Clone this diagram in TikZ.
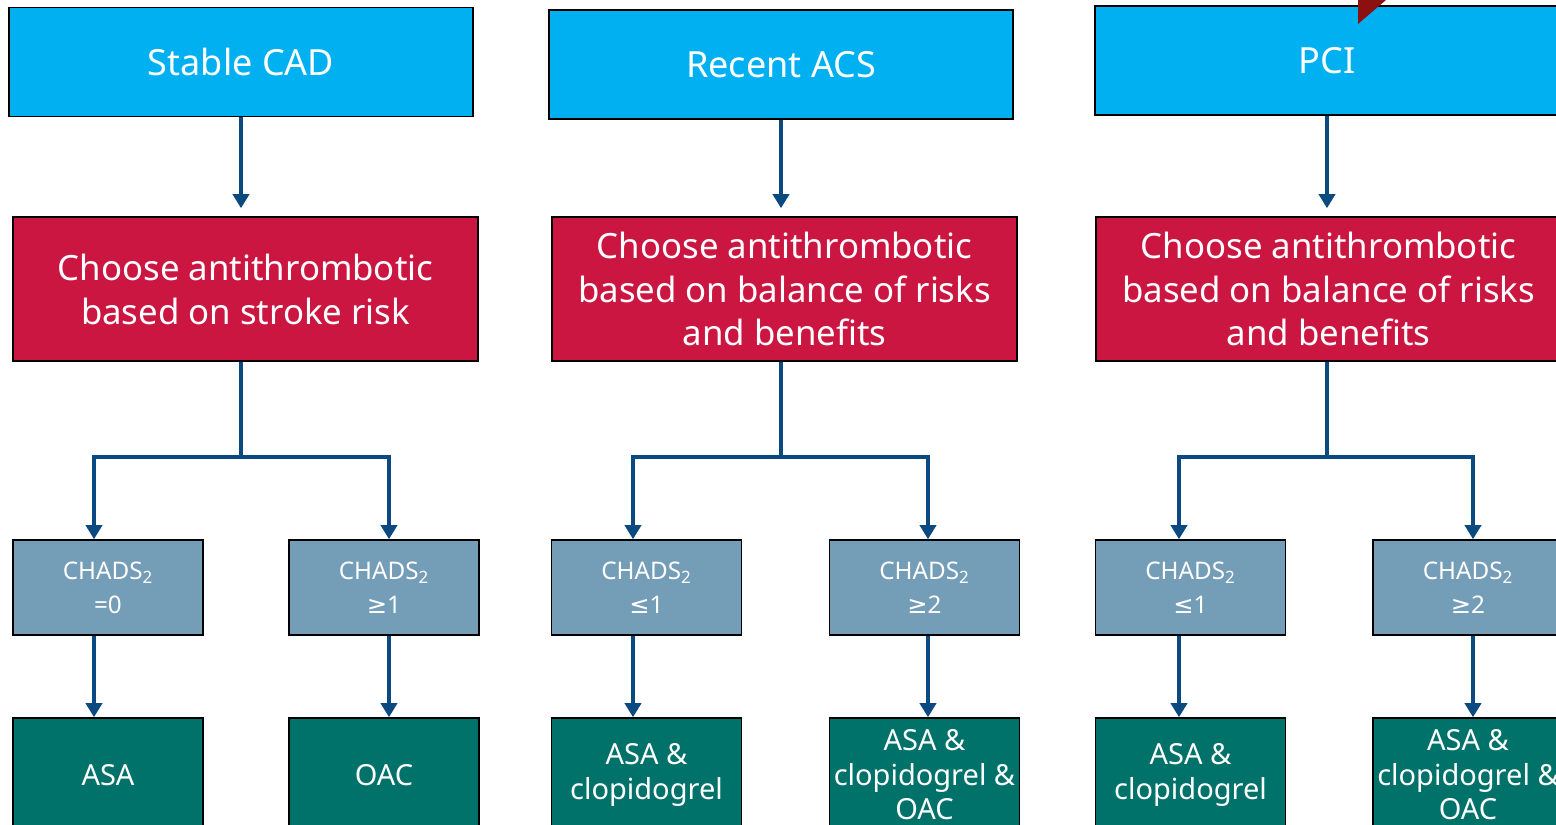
\documentclass[tikz,border=0pt]{standalone}
\usepackage{fontspec}
\setmainfont{Noto Sans}
\newfontfamily\symfont{DejaVu Sans}
\usepackage{tikz}
\usetikzlibrary{arrows.meta}
\usetikzlibrary{calc,positioning}

\definecolor{cadblue}{RGB}{0,176,240}
\definecolor{riskred}{RGB}{204,22,66}
\definecolor{chadsgray}{RGB}{116,157,183}
\definecolor{drugteal}{RGB}{0,114,106}
\definecolor{flowblue}{RGB}{10,74,128}
\definecolor{markred}{RGB}{140,16,16}

\tikzset{
  box/.style={draw=black, line width=0.9pt, text=white, align=center, inner sep=0pt},
  topbox/.style={box, fill=cadblue, minimum width=9.28cm, minimum height=2.18cm,
    font=\fontsize{20.5}{25}\selectfont},
  riskbox/.style={box, fill=riskred, minimum width=9.3cm, minimum height=2.88cm,
    font=\fontsize{19.8}{25}\selectfont},
  chadsbox/.style={box, fill=chadsgray, minimum width=3.8cm, minimum height=1.9cm,
    font=\fontsize{13.8}{19.3}\selectfont},
  drugbox/.style={box, fill=drugteal, minimum width=3.8cm, minimum height=2.28cm,
    font=\fontsize{16.5}{19.6}\selectfont},
  flow/.style={draw=flowblue, line width=2pt},
  flowarrow/.style={flow, -{Triangle[width=0.32cm,length=0.28cm]}},
}
\newcommand{\chads}{CHADS\textsubscript{2}}
\newcommand{\atleast}{{\symfont ≥}}
\newcommand{\atmost}{{\symfont ≤}}

\begin{document}
\begin{tikzpicture}[x=0.02cm, y=-0.02cm]
\useasboundingbox (0,0) rectangle (1556,825);
\clip (0,0) rectangle (1556,825);

% clinical setting
\node[topbox] (cad) at (241,62)    {Stable CAD};
\node[topbox] (acs) at (781,64.5)  {Recent ACS};
\node[topbox] (pci) at (1327,60.5) {PCI};
\fill[markred] (1358,0) -- (1386,0) -- (1358,24) -- cycle;

% decision boxes
\node[riskbox] (risk1) at (245.5,289)  {Choose antithrombotic\\based on stroke risk};
\node[riskbox] (risk2) at (784.5,289)  {Choose antithrombotic\\based on balance of risks\\and benefits};
\node[riskbox] (risk3) at (1328.5,289) {Choose antithrombotic\\based on balance of risks\\and benefits};

% stroke risk
\node[chadsbox] (chA) at (108,587.5)    {\chads\\=0};
\node[chadsbox] (chB) at (384,587.5)    {\chads\\\atleast1};
\node[chadsbox] (chC) at (646.5,587.5)  {\chads\\\atmost1};
\node[chadsbox] (chD) at (924.5,587.5)  {\chads\\\atleast2};
\node[chadsbox] (chE) at (1190.5,587.5) {\chads\\\atmost1};
\node[chadsbox] (chF) at (1468,587.5)   {\chads\\\atleast2};

% therapy
\node[drugbox] (ddA) at (108,775)    {ASA};
\node[drugbox] (ddB) at (384,775)    {OAC};
\node[drugbox] (ddC) at (646.5,775)  {ASA \&\\clopidogrel};
\node[drugbox] (ddD) at (924.5,775)  {ASA \&\\clopidogrel \&\\OAC};
\node[drugbox] (ddE) at (1190.5,775) {ASA \&\\clopidogrel};
\node[drugbox] (ddF) at (1468,775)   {ASA \&\\clopidogrel \&\\OAC};

% branch lines
\foreach \n/\x in {A/94, B/389, C/633, D/928, E/1179, F/1473}
  \coordinate (b\n) at (\x,0);

\draw[flowarrow, shorten >=0.16cm] (cad.south) -- (cad.south |- risk1.north);
\draw[flowarrow, shorten >=0.16cm] (acs.south) -- (acs.south |- risk2.north);
\draw[flowarrow, shorten >=0.16cm] (pci.south) -- (pci.south |- risk3.north);

\foreach \t/\r/\l/\m in {cad/1/A/B, acs/2/C/D, pci/3/E/F} {
  \draw[flow] (\t.south |- risk\r.south) -- ++(0,95) coordinate (j\r);
  \draw[flowarrow] (j\r) -| (b\l |- ch\l.north);
  \draw[flowarrow] (j\r) -| (b\m |- ch\m.north);
}

\foreach \n in {A,B,C,D,E,F}
  \draw[flowarrow] (b\n |- ch\n.south) -- (b\n |- dd\n.north);
\end{tikzpicture}
\end{document}
